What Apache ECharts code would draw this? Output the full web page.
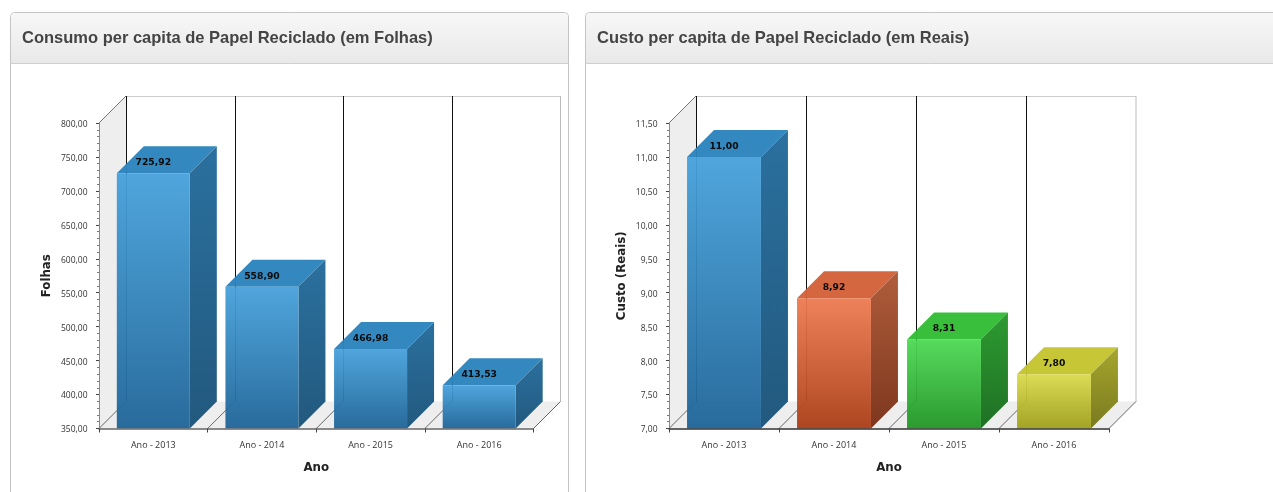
<!DOCTYPE html>
<html>
<head>
<meta charset="utf-8">
<style>html,body{margin:0;padding:0;background:#fff;overflow:hidden}#c{width:1273px;height:492px}</style>
<script src="https://cdn.jsdelivr.net/npm/echarts@6/dist/echarts.min.js"></script>
</head>
<body>
<div id="c"></div>
<script>
const categories = ['Ano - 2013', 'Ano - 2014', 'Ano - 2015', 'Ano - 2016'];
const folhasValues = [725.92, 558.90, 466.98, 413.53];
const reaisValues = [11.00, 8.92, 8.31, 7.80];
const leftTitle = 'Consumo per capita de Papel Reciclado (em Folhas)';
const rightTitle = 'Custo per capita de Papel Reciclado (em Reais)';

const BLUE = {front: ['#46a1db', '#1e6497'], top: '#2b84bd', side: ['#2b709f', '#22597e']};
const ORANGE = {front: ['#ee7b51', '#aa3e16'], top: '#d3623a', side: ['#b05d3b', '#7d371e']};
const GREEN = {front: ['#4dd954', '#219525'], top: '#33bd36', side: ['#2d9b30', '#1f7025']};
const YELLOW = {front: ['#dada4d', '#9f9f1b'], top: '#c4c431', side: ['#a6a62d', '#7a7a20']};
const leftColors = [BLUE, BLUE, BLUE, BLUE];
const rightColors = [BLUE, ORANGE, GREEN, YELLOW];

const DEPTH = 27;
const BAR_RATIO = 0.672;
const fmt = v => v.toFixed(2).replace('.', ',');

function grad(c) {
  return new echarts.graphic.LinearGradient(0, 0, 0, 1, [{offset: 0, color: c[0]}, {offset: 1, color: c[1]}]);
}

function frameItem(params, api) {
  const cs = params.coordSys;
  const x0 = cs.x, y0 = cs.y, w = cs.width, h = cs.height, b = y0 + h;
  const i = api.value(0);
  const band = w / categories.length;
  const children = [];
  const line = (x1, y1, x2, y2, color, lw) => ({
    type: 'line', shape: {x1, y1, x2, y2}, style: {stroke: color, lineWidth: lw || 1}
  });
  if (i === 0) {
    children.push({type: 'polygon', shape: {points: [[x0, y0], [x0 + DEPTH, y0 - DEPTH], [x0 + DEPTH, b - DEPTH], [x0, b]]}, style: {fill: '#eeeeee'}});
    children.push({type: 'polygon', shape: {points: [[x0, b], [x0 + DEPTH, b - DEPTH], [x0 + w + DEPTH, b - DEPTH], [x0 + w, b]]}, style: {fill: '#eeeeee'}});
    children.push(line(x0 + DEPTH, y0 - DEPTH + 0.5, x0 + w + DEPTH, y0 - DEPTH + 0.5, '#cccccc'));
    children.push(line(x0 + w + DEPTH, y0 - DEPTH, x0 + w + DEPTH, b - DEPTH, '#bbbbbb'));
    children.push(line(x0, y0, x0 + DEPTH, y0 - DEPTH, '#777777'));
    children.push(line(x0 + w, b, x0 + w + DEPTH, b - DEPTH, '#666666'));
  }
  const x = x0 + band * i;
  const gx = Math.round(x + DEPTH) + 0.5;
  children.push(line(gx, y0 - DEPTH, gx, b - DEPTH, '#111111'));
  children.push(line(x, b, x + DEPTH, b - DEPTH, '#666666'));
  return {type: 'group', children};
}

function barItem(colors, axisMin) {
  return function (params, api) {
    const i = api.value(0), v = api.value(1);
    const top = api.coord([i, v]);
    const base = api.coord([i, axisMin]);
    const band = api.size([1, 0])[0];
    const bw = band * BAR_RATIO;
    const l = top[0] - bw / 2, r = top[0] + bw / 2, t = top[1], b = base[1];
    const c = colors[i];
    return {
      type: 'group',
      children: [
        {type: 'polygon', shape: {points: [[l, t], [l + DEPTH, t - DEPTH], [r + DEPTH, t - DEPTH], [r, t]]}, style: {fill: c.top, opacity: 0.97}},
        {type: 'polygon', shape: {points: [[r, t], [r + DEPTH, t - DEPTH], [r + DEPTH, b - DEPTH], [r, b]]}, style: {fill: grad(c.side)}},
        {type: 'rect', shape: {x: l, y: t, width: bw, height: b - t}, style: {fill: grad(c.front), opacity: 0.95}},
        {type: 'text', x: top[0], y: t - 10.5, style: {text: fmt(v), fill: '#0a0a0a', font: 'bold 9.2px "DejaVu Sans"', align: 'center', verticalAlign: 'middle'}}
      ]
    };
  };
}

const panelGraphic = (x, w) => [
  {type: 'rect', z: -20, shape: {x: x + 0.5, y: 12.5, width: w, height: 520, r: 4}, style: {fill: '#fff', stroke: '#c4c4c4', lineWidth: 1}},
  {type: 'rect', z: -19, shape: {x: x + 1, y: 13, width: w - 1, height: 50, r: [4, 4, 0, 0]},
    style: {fill: new echarts.graphic.LinearGradient(0, 0, 0, 1, [{offset: 0, color: '#f7f7f7'}, {offset: 1, color: '#e9e9e9'}])}},
  {type: 'line', z: -18, shape: {x1: x, y1: 63.5, x2: x + w + 1, y2: 63.5}, style: {stroke: '#cfcfcf', lineWidth: 1}}
];

const titleStyle = {fontFamily: '"Liberation Sans", Arial, sans-serif', fontSize: 16.5, fontWeight: 'bold', color: '#444444'};

function xAxis(idx, lineColor) {
  return {
    type: 'category', gridIndex: idx, data: categories, z: 5,
    name: 'Ano', nameLocation: 'middle', nameGap: 33.5,
    nameTextStyle: {fontFamily: '"DejaVu Sans"', fontSize: 11.8, fontWeight: 'bold', color: '#222'},
    axisLine: {show: true, lineStyle: {color: lineColor, width: 1.5}},
    axisTick: {show: true, length: 4, lineStyle: {color: '#444'}},
    axisLabel: {color: '#333', fontFamily: '"Open Sans"', fontSize: 9, margin: 12.5},
    splitLine: {show: false}
  };
}
function yAxis(idx, min, max, interval, name, gap) {
  return {
    type: 'value', gridIndex: idx, min, max, interval, z: 5,
    name, nameLocation: 'middle', nameGap: gap,
    nameTextStyle: {fontFamily: '"DejaVu Sans"', fontSize: 11.8, fontWeight: 'bold', color: '#222'},
    axisLine: {show: true, lineStyle: {color: '#8a8a8a', width: 1}},
    axisTick: {show: true, length: 3, lineStyle: {color: '#444'}},
    minorTick: {show: true, splitNumber: 5, length: 2, lineStyle: {color: '#777'}},
    axisLabel: {
      margin: 11.5,
      formatter: v => '{t|' + fmt(v) + '}',
      rich: {t: {color: '#333', fontFamily: '"Open Sans"', fontSize: 8.5, padding: [3, 0, 0, 0]}}
    },
    splitLine: {show: false}
  };
}
function frameSeries(idx) {
  return {type: 'custom', xAxisIndex: idx, yAxisIndex: idx, z: 1, silent: true,
    data: categories.map((c, i) => [i, 0]), encode: {x: 0}, renderItem: frameItem};
}
function barSeries(idx, values, colors, min) {
  return {type: 'custom', xAxisIndex: idx, yAxisIndex: idx, z: 3, silent: true,
    data: values.map((v, i) => [i, v]), encode: {x: 0, y: 1}, renderItem: barItem(colors, min)};
}

const chart = echarts.init(document.getElementById('c'), null, {renderer: 'canvas'});
chart.setOption({
  animation: false,
  backgroundColor: '#fff',
  graphic: {elements: panelGraphic(10, 558).concat(panelGraphic(585, 720))},
  title: [
    {text: leftTitle, left: 22, top: 30, padding: 0, textStyle: titleStyle},
    {text: rightTitle, left: 597, top: 30, padding: 0, textStyle: titleStyle}
  ],
  grid: [
    {left: 99, top: 123, width: 434.5, height: 305.5},
    {left: 669, top: 123, width: 440, height: 305.5}
  ],
  xAxis: [xAxis(0, '#666'), xAxis(1, '#333')],
  yAxis: [
    yAxis(0, 350, 800, 50, 'Folhas', 46),
    yAxis(1, 7, 11.5, 0.5, 'Custo (Reais)', 41)
  ],
  series: [
    frameSeries(0), barSeries(0, folhasValues, leftColors, 350),
    frameSeries(1), barSeries(1, reaisValues, rightColors, 7)
  ]
});
</script>
</body>
</html>
